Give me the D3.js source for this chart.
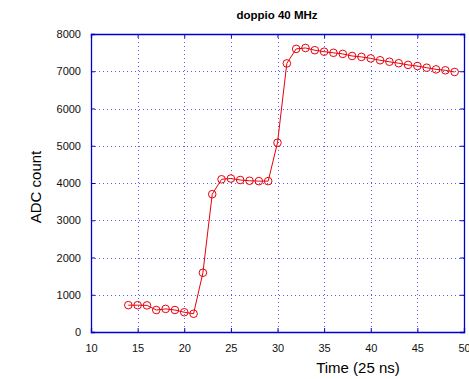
<!DOCTYPE html>
<html>
<head>
<meta charset="utf-8">
<script src="https://cdn.jsdelivr.net/npm/d3@7"></script>
<style>
  body { margin: 0; background: #fff; }
  svg { display: block; font-family: "Liberation Sans", Arial, sans-serif; }
</style>
</head>
<body>
<svg id="chart" width="469" height="379"></svg>
<script>
// data
const times  = [14, 15, 16, 17, 18, 19, 20, 21, 22, 23, 24, 25, 26, 27, 28, 29, 30, 31,
                32, 33, 34, 35, 36, 37, 38, 39, 40, 41, 42, 43, 44, 45, 46, 47, 48, 49];
const counts = [720, 720, 715, 590, 620, 590, 530, 490, 1590, 3700, 4100, 4120, 4080, 4060, 4050, 4050, 5080, 7210,
                7600, 7625, 7565, 7525, 7495, 7465, 7410, 7385, 7345, 7295, 7255, 7215, 7170, 7140, 7095, 7050, 7025, 6980];
const xTicks = [10, 15, 20, 25, 30, 35, 40, 45, 50];
const yTicks = [0, 1000, 2000, 3000, 4000, 5000, 6000, 7000, 8000];

const L = 91, R = 464, T = 34, B = 332;
const svg = d3.select('#chart');

const x = d3.scaleLinear().domain([10, 50]).range([L, R]);
const y = d3.scaleLinear().domain([0, 8000]).range([B, T]);

// grid
const grid = svg.append('g').attr('stroke', '#2020ee').attr('stroke-opacity', 0.75).attr('stroke-width', 1)
    .attr('stroke-dasharray', '1,3').attr('shape-rendering', 'crispEdges');
xTicks.slice(1, -1).forEach(t => {
    grid.append('line').attr('x1', Math.round(x(t)) + 0.5).attr('x2', Math.round(x(t)) + 0.5)
        .attr('y1', T).attr('y2', B);
});
yTicks.slice(1, -1).forEach(t => {
    grid.append('line').attr('y1', Math.round(y(t)) + 0.5).attr('y2', Math.round(y(t)) + 0.5)
        .attr('x1', L).attr('x2', R);
});

// axes (bottom / left with labels, top / right without)
svg.append('g').attr('transform', `translate(0,${B})`)
    .call(d3.axisBottom(x).tickValues(xTicks).tickSize(-4).tickPadding(12));
svg.append('g').attr('transform', `translate(${L},0)`)
    .call(d3.axisLeft(y).tickValues(yTicks).tickSize(-4).tickPadding(10).tickFormat(d3.format('d')));
svg.append('g').attr('transform', `translate(0,${T})`)
    .call(d3.axisTop(x).tickValues(xTicks).tickSize(-4).tickFormat(''));
svg.append('g').attr('transform', `translate(${R},0)`)
    .call(d3.axisRight(y).tickValues(yTicks).tickSize(-4).tickFormat(''));

svg.selectAll('.domain').attr('stroke', '#0000cc').attr('stroke-width', 1.3);
svg.selectAll('.tick line').attr('stroke', '#0000cc');
svg.selectAll('.tick text').attr('font-size', 11).attr('fill', '#111')
    .attr('font-family', '"Liberation Sans", Arial, sans-serif');

// series
const line = d3.line().x((d, i) => x(times[i])).y(d => y(d));
svg.append('path').datum(counts)
    .attr('d', line).attr('fill', 'none').attr('stroke', '#e8000b').attr('stroke-width', 1);
svg.append('g').selectAll('circle').data(counts).join('circle')
    .attr('cx', (d, i) => x(times[i])).attr('cy', d => y(d)).attr('r', 3.8)
    .attr('fill', 'none').attr('stroke', '#e8000b').attr('stroke-width', 1);

// labels
svg.append('text').attr('x', 277).attr('y', 19).attr('text-anchor', 'middle')
    .attr('font-size', 11.5).attr('font-weight', 'bold').text('doppio 40 MHz');
svg.append('text').attr('x', 358).attr('y', 373).attr('text-anchor', 'middle')
    .attr('font-size', 15).text('Time (25 ns)');
svg.append('text').attr('transform', `translate(41,${(T + B) / 2 + 4}) rotate(-90)`)
    .attr('text-anchor', 'middle').attr('font-size', 15).text('ADC count');
</script>
</body>
</html>
